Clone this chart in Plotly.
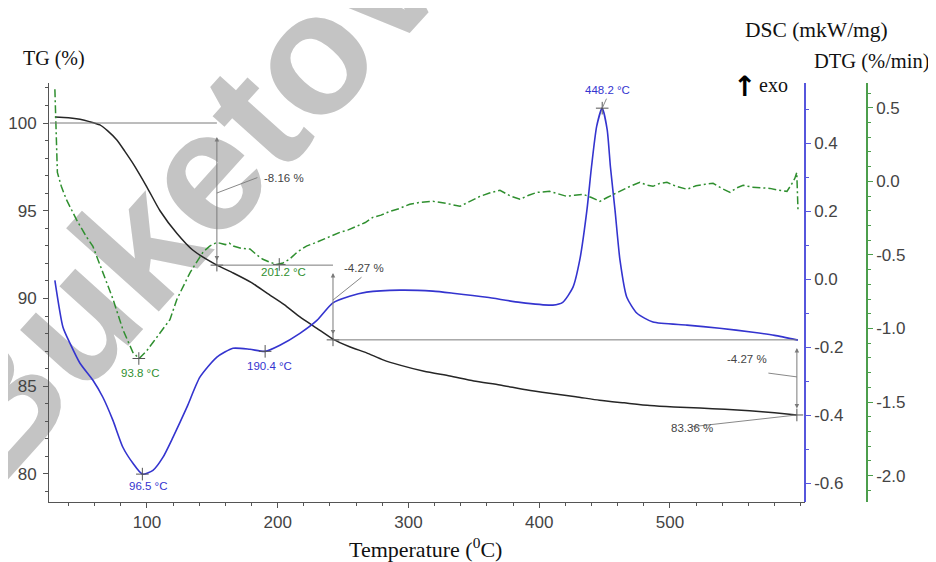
import plotly.graph_objects as go

# ---------------- data ----------------
tg_T = [29.6, 40, 48.8, 56, 64, 70, 77, 83, 89.3, 100, 110, 123, 135, 153.5, 166, 180,
        191.8, 205, 217, 230, 242, 255, 268, 280.6, 293.5, 312, 331.7, 350, 370, 390,
        408, 428, 446, 465, 484.7, 503, 523, 542, 561, 580, 597]
tg_val = [100.34, 100.3, 100.21, 100.08, 99.89, 99.55, 99.03, 98.4, 97.7, 96.35, 95.0,
          93.7, 92.76, 91.9, 91.45, 90.9, 90.3, 89.65, 88.95, 88.3, 87.7, 87.25, 86.9,
          86.5, 86.2, 85.85, 85.58, 85.3, 85.07, 84.8, 84.6, 84.4, 84.2, 84.05, 83.9,
          83.82, 83.76, 83.68, 83.6, 83.48, 83.36]

dsc_T = [29.6, 35.8, 41.1, 48.8, 58.7, 66.3, 74.0, 81.6, 89.3, 96.5, 104.6, 112.2, 119.9,
         130.6, 140.5, 153.5, 165.8, 178.8, 190.4, 201.7, 217.0, 230.0, 242, 255, 268,
         293.5, 318.7, 334, 360, 385.3, 410.5, 418, 425.8, 431, 436.5, 440, 444, 448.2,
         452, 454.5, 458, 461.8, 467, 474.8, 487, 513, 538, 563.5, 580, 597.9]
dsc_val = [-0.003, -0.141, -0.188, -0.247, -0.297, -0.347, -0.415, -0.494, -0.541, -0.573,
           -0.562, -0.524, -0.465, -0.376, -0.288, -0.229, -0.203, -0.206, -0.212, -0.194,
           -0.159, -0.121, -0.07, -0.05, -0.038, -0.032, -0.035, -0.041, -0.053, -0.068,
           -0.076, -0.068, -0.024, 0.056, 0.203, 0.33, 0.45, 0.503, 0.44, 0.33, 0.203,
           0.056, -0.053, -0.1, -0.126, -0.135, -0.144, -0.156, -0.165, -0.179]

dtg_T = [29.6, 30.6, 31.5, 34.5, 38.3, 46, 53.5, 58.7, 66.3, 74, 81.6, 89.3, 94, 100, 105,
         110, 117.6, 123, 133, 143, 148, 153.5, 160, 163, 166, 172, 178.8, 184, 188.7,
         194, 199.4, 204, 209, 215, 222, 228, 234.6, 241, 247.6, 254, 260.6, 267, 272.8,
         279, 285.9, 293, 301, 309, 318.7, 329, 339.4, 347, 354.7, 362, 370, 378, 385.3,
         392, 398.3, 408, 415, 421, 427, 433.5, 440, 446.5, 452, 459.5, 468, 477, 482,
         487, 492, 497.7, 505, 513, 520, 527, 533, 540, 546, 551, 556, 563, 570, 576.5,
         583, 589.5, 593, 595.5, 597, 597.5, 598]
dtg_val = [0.626, 0.286, 0.061, -0.034, -0.122, -0.259, -0.374, -0.442, -0.619, -0.80,
           -1.007, -1.163, -1.204, -1.15, -1.09, -1.03, -0.94, -0.80, -0.62, -0.48, -0.44,
           -0.415, -0.43, -0.42, -0.44, -0.455, -0.46, -0.50, -0.53, -0.55, -0.565, -0.555,
           -0.53, -0.48, -0.44, -0.42, -0.395, -0.37, -0.347, -0.33, -0.306, -0.28, -0.245,
           -0.23, -0.204, -0.185, -0.156, -0.143, -0.136, -0.15, -0.17, -0.135, -0.102,
           -0.08, -0.061, -0.10, -0.122, -0.095, -0.075, -0.068, -0.085, -0.102, -0.095,
           -0.088, -0.11, -0.136, -0.11, -0.075, -0.04, -0.007, -0.025, -0.034, -0.015,
           -0.007, -0.035, -0.054, -0.03, -0.02, -0.014, -0.05, -0.075, -0.045, -0.027,
           -0.04, -0.045, -0.048, -0.06, -0.068, -0.02, 0.02, 0.06, -0.05, -0.21]

x_ticks = [100, 200, 300, 400, 500]
tg_ticks = [80, 85, 90, 95, 100]
dsc_ticks = [-0.6, -0.4, -0.2, 0.0, 0.2, 0.4]
dtg_ticks = [-2.0, -1.5, -1.0, -0.5, 0.0, 0.5]

# TG step analysis: levels and temperatures
tg_levels = [100.0, 91.9, 87.64, 83.36]
tg_step_T = [25.8, 153.5, 242.3, 597.1]
tg_steps = ["-8.16 %", "-4.27 %", "-4.27 %"]
tg_residue = "83.36 %"

dsc_peaks_T = [96.5, 190.4, 448.2]
dsc_peaks_v = [-0.573, -0.212, 0.503]
dtg_peaks_T = [93.8, 201.2]
dtg_peaks_v = [-1.204, -0.565]

watermark = "Buketov"

# ---------------- geometry ----------------
OFF = 8                      # page margin of the html body
W, H = 936 - OFF, 562 - OFF
ML, MT = 49, 83              # plot-area corner in window pixels
PW, PH = 805 - 49, 502 - 83
PW_PAPER = 837
MR = W - (ML - OFF) - PW_PAPER
MB = H - (MT - OFF) - PH
XD = PW / PW_PAPER
P3 = (867 - ML) / PW_PAPER


def px(x):
    return (x - ML) / PW_PAPER


def py(y):
    return (MT + PH - y) / PH


BLUE = "#3434cf"
BLUE_AX = "#5656dc"
GREEN = "#2f8f2f"
GREEN_AX = "#4c9e4c"
GRAY = "#7a7a7a"
TICKF = dict(family="Liberation Sans", size=17, color="#444")
SERIF = "Liberation Serif"


def fmt(v):
    return "%.1f" % v


fig = go.Figure()
fig.add_trace(go.Scatter(x=tg_T, y=tg_val, mode="lines", yaxis="y",
                         line=dict(color="#262626", width=1.5, shape="spline", smoothing=0.6),
                         showlegend=False, hoverinfo="skip"))
fig.add_trace(go.Scatter(x=dsc_T, y=dsc_val, mode="lines", yaxis="y2",
                         line=dict(color=BLUE, width=1.6, shape="spline", smoothing=0.6),
                         showlegend=False, hoverinfo="skip"))
fig.add_trace(go.Scatter(x=dtg_T, y=dtg_val, mode="lines", yaxis="y3",
                         line=dict(color=GREEN, width=1.5, dash="8px,3px,2px,3px"),
                         showlegend=False, hoverinfo="skip"))

cross = dict(symbol="cross-thin", size=9, line=dict(width=1, color="#555"))
fig.add_trace(go.Scatter(x=tg_step_T[1:], y=tg_levels[1:], mode="markers", yaxis="y",
                         marker=cross, showlegend=False, hoverinfo="skip"))
fig.add_trace(go.Scatter(x=dsc_peaks_T, y=dsc_peaks_v, mode="markers", yaxis="y2",
                         marker=cross, showlegend=False, hoverinfo="skip"))
fig.add_trace(go.Scatter(x=dtg_peaks_T, y=dtg_peaks_v, mode="markers", yaxis="y3",
                         marker=cross, showlegend=False, hoverinfo="skip"))

shapes = []
# horizontal reference lines of the TG step analysis
for i in range(3):
    shapes.append(dict(type="line", xref="x", yref="y", x0=tg_step_T[i], x1=tg_step_T[i + 1],
                       y0=tg_levels[i], y1=tg_levels[i], line=dict(color=GRAY, width=1)))
# watermark (below the traces)
WX, WY = 168, 188
shapes.append(dict(type="line", xref="paper", yref="paper", layer="below",
                   x0=px(WX - 80), y0=py(WY + 72), x1=px(WX + 80), y1=py(WY - 72),
                   line=dict(width=0, color="rgba(0,0,0,0)"),
                   label=dict(text=watermark, textposition="middle", textangle=-48,
                              yanchor="middle", xanchor="center",
                              font=dict(family="Liberation Sans", size=172, color="#c4c4c4",
                                        weight="bold"))))

ann = []
# vertical double arrows
arrow_spans = [(tg_step_T[1], 99.2, 92.08), (tg_step_T[2], 91.45, 87.86), (tg_step_T[3], 87.18, 83.65)]
for t, top, bot in arrow_spans:
    ann.append(dict(x=t, y=top, ax=t, ay=bot, xref="x", yref="y", axref="x", ayref="y",
                    text="", showarrow=True, arrowhead=2, arrowside="end+start",
                    arrowsize=0.9, arrowwidth=1, arrowcolor=GRAY))


def leader(x, y, dx, dy, yref="y"):
    ann.append(dict(x=x, y=y, xref="x", yref=yref, ax=dx, ay=dy, text="", showarrow=True,
                    arrowhead=0, arrowwidth=0.9, arrowcolor=GRAY, standoff=0))


def label(x, y, text, color, xs=0, ys=0, xref="x", yref="y"):
    ann.append(dict(x=x, y=y, xref=xref, yref=yref, text=text, showarrow=False,
                    xshift=xs, yshift=ys, font=dict(family="Liberation Sans", size=11.5,
                                                    color=color)))

leader(tg_step_T[1], 96.01, 42, -16)
label(px(262), py(170), tg_steps[0], "#444", xref="paper", yref="paper")
leader(tg_step_T[2], 89.91, 30, -24)
label(px(364), py(268), tg_steps[1], "#444", xref="paper", yref="paper")
leader(tg_step_T[3], 85.53, -30, -4)
label(px(769), py(367), tg_steps[2], "#444", xref="paper", yref="paper")
leader(tg_step_T[3], tg_levels[3], -107, 12)
label(px(715), py(436), tg_residue, "#444", xref="paper", yref="paper")

leader(dsc_peaks_T[2], dsc_peaks_v[2], 5, -11, yref="y2")
label(dsc_peaks_T[2], dsc_peaks_v[2], "%.1f °C" % dsc_peaks_T[2], BLUE, xs=5, ys=18, yref="y2")
label(dsc_peaks_T[0], dsc_peaks_v[0], "%.1f °C" % dsc_peaks_T[0], BLUE, xs=6, ys=-12, yref="y2")
label(dsc_peaks_T[1], dsc_peaks_v[1], "%.1f °C" % dsc_peaks_T[1], BLUE, xs=4, ys=-15, yref="y2")
label(dtg_peaks_T[0], dtg_peaks_v[0], "%.1f °C" % dtg_peaks_T[0], GREEN, xs=1, ys=-14, yref="y3")
label(dtg_peaks_T[1], dtg_peaks_v[1], "%.1f °C" % dtg_peaks_T[1], GREEN, xs=4, ys=-8, yref="y3")


def title(x, y, text, size=20, family=SERIF, color="#111"):
    ann.append(dict(x=px(x), y=py(y), xref="paper", yref="paper", text=text, showarrow=False,
                    xanchor="center", yanchor="middle", font=dict(family=family, size=size,
                                                                   color=color)))

title(54, 59, "TG (%)")
title(816, 30, "DSC (mkW/mg)", size=21.5)
title(872, 62, "DTG (%/min)", size=20.5)
title(773, 85, "exo")
title(744, 87, "<b>↑</b>", size=28, family="DejaVu Sans", color="#000")
title(425, 548, "Temperature (<sup>0</sup>C)", size=22)

fig.update_layout(
    width=W, height=H, margin=dict(l=ML - OFF, r=MR, t=MT - OFF, b=MB, pad=0,
                                   autoexpand=False),
    paper_bgcolor="white", plot_bgcolor="white", showlegend=False,
    shapes=shapes, annotations=ann,
    xaxis=dict(domain=[0, XD], range=[25.1, 603.3], showline=True, linecolor="#555",
               linewidth=1, ticks="outside", ticklen=5, tickcolor="#555",
               tickmode="array", tickvals=x_ticks, ticktext=[str(v) for v in x_ticks],
               tickfont=TICKF, showgrid=False, zeroline=False, automargin=False,
               minor=dict(tickmode="linear", tick0=0, dtick=20, ticks="outside",
                          ticklen=3, tickcolor="#555", showgrid=False)),
    yaxis=dict(range=[78.40, 102.28], showline=True, linecolor="#555", linewidth=1,
               ticks="outside", ticklen=5, tickcolor="#555", tickmode="array",
               tickvals=tg_ticks, ticktext=[str(v) for v in tg_ticks], tickfont=TICKF,
               ticklabelstandoff=3, showgrid=False, zeroline=False, automargin=False,
               minor=dict(tickmode="linear", tick0=0, dtick=1, ticks="outside",
                          ticklen=3, tickcolor="#555", showgrid=False)),
    yaxis2=dict(overlaying="y", side="right", anchor="free", position=XD,
                range=[-0.655, 0.577], showline=True, linecolor=BLUE_AX, linewidth=1.5,
                ticks="outside", ticklen=5, tickcolor=BLUE_AX, tickmode="array",
                tickvals=dsc_ticks, ticktext=[fmt(v) for v in dsc_ticks], tickfont=TICKF,
                showgrid=False, zeroline=False, automargin=False,
                minor=dict(tickmode="linear", tick0=0, dtick=0.1, ticks="outside",
                           ticklen=3, tickcolor=BLUE_AX, showgrid=False)),
    yaxis3=dict(overlaying="y", side="right", anchor="free", position=P3,
                range=[-2.179, 0.668], showline=True, linecolor=GREEN_AX, linewidth=1.5,
                ticks="outside", ticklen=5, tickcolor=GREEN_AX, tickmode="array",
                tickvals=dtg_ticks, ticktext=[fmt(v) for v in dtg_ticks], tickfont=TICKF,
                showgrid=False, zeroline=False, automargin=False,
                minor=dict(tickmode="linear", tick0=0, dtick=0.1, ticks="outside",
                           ticklen=3, tickcolor=GREEN_AX, showgrid=False)),
)

fig.write_html("out.html")
